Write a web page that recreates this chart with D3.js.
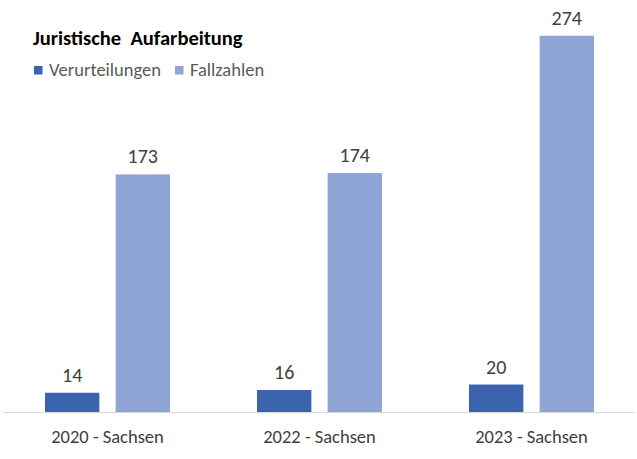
<!DOCTYPE html>
<html><head><meta charset="utf-8">
<script src="https://cdn.jsdelivr.net/npm/d3@7"></script>
<style>body{margin:0;background:#fff}svg{display:block}</style>
</head><body>
<script>
const categories = ["2020 - Sachsen", "2022 - Sachsen", "2023 - Sachsen"];
const verurteilungen = [14, 16, 20];
const fallzahlen = [173, 174, 274];
const seriesNames = ["Verurteilungen", "Fallzahlen"];
const colors = ["#3c64ae", "#8fa5d5"];

const W = 637, H = 459;
const svg = d3.select("body").append("svg").attr("width", W).attr("height", H);
const font = "Calibri, Carlito, 'Open Sans', 'Liberation Sans', sans-serif";

const x = d3.scaleBand().domain(categories).range([1.5, 637.5]).paddingInner(0).paddingOuter(0);
const y = d3.scaleLinear().domain([0, 300]).range([412, 0]);
const inner = d3.scaleBand().domain(seriesNames).range([43.5, 168.5]).paddingInner(0.23);

const data = categories.map((c, i) => ({c, vals: [verurteilungen[i], fallzahlen[i]]}));

// axis line
svg.append("line").attr("x1", 4).attr("x2", 635).attr("y1", y(0) + 0.5).attr("y2", y(0) + 0.5)
  .attr("stroke", "#d9d9d9").attr("stroke-width", 1);

const g = svg.selectAll("g.grp").data(data).join("g").attr("transform", d => `translate(${x(d.c)},0)`);
g.selectAll("rect").data(d => d.vals.map((v, j) => ({v, s: seriesNames[j], j}))).join("rect")
  .attr("x", d => inner(d.s)).attr("width", inner.bandwidth())
  .attr("y", d => y(d.v)).attr("height", d => y(0) - y(d.v))
  .attr("fill", d => colors[d.j]);
g.selectAll("text.val").data(d => d.vals.map((v, j) => ({v, s: seriesNames[j]}))).join("text")
  .attr("class", "val")
  .attr("x", d => inner(d.s) + inner.bandwidth() / 2).attr("y", d => y(d.v) - 11)
  .attr("text-anchor", "middle").attr("font-family", font).attr("font-size", 20).attr("fill", "#404040")
  .text(d => d.v);

// x labels
g.append("text").attr("x", x.bandwidth() / 2).attr("y", 443).attr("text-anchor", "middle")
  .attr("font-family", font).attr("font-size", 18.5).attr("fill", "#404040").text(d => d.c);

// title
svg.append("text").attr("x", 33).attr("y", 45).attr("font-family", font).attr("font-size", 20.5)
  .attr("font-weight", "bold").attr("fill", "#000").style("white-space", "pre")
  .text("Juristische  Aufarbeitung");

// legend
const legX = [34, 175];
seriesNames.forEach((s, i) => {
  svg.append("rect").attr("x", legX[i]).attr("y", 66).attr("width", 8.5).attr("height", 8.5).attr("fill", colors[i]);
  svg.append("text").attr("x", legX[i] + 15).attr("y", 76).attr("font-family", font).attr("font-size", 18.5)
    .attr("fill", "#595959").text(s);
});
</script>
</body></html>
